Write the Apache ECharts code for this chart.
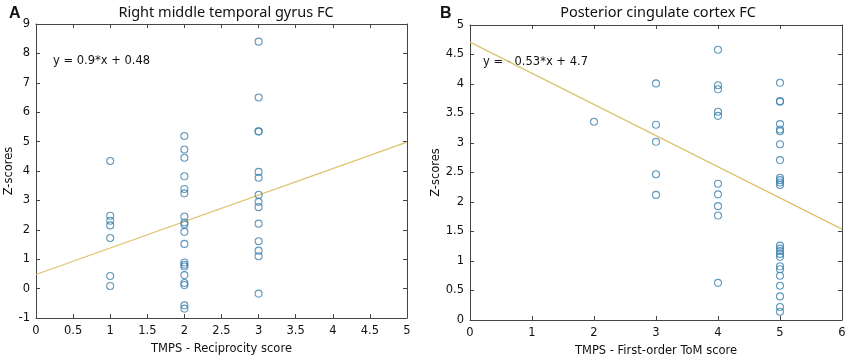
<!DOCTYPE html>
<html>
<head>
<meta charset="utf-8">
<script src="https://cdn.jsdelivr.net/npm/echarts@6/dist/echarts.min.js"></script>
<style>
  html, body { margin: 0; padding: 0; background: #fff; }
  #chart { width: 850px; height: 363px; }
</style>
</head>
<body>
<div id="chart"></div>
<script>
// Panel A: Right middle temporal gyrus FC, scores by reciprocity score
const recipX1 = [4.34, 2.48, 2.31, 2.15, 1.72, 0.43, 0.09];
const recipX2 = [5.19, 4.73, 4.45, 3.82, 3.39, 3.24, 2.45, 2.25, 2.18, 1.93, 1.52, 0.89, 0.81, 0.75, 0.46, 0.19, 0.12, -0.57, -0.68];
const recipX3 = [8.40, 6.50, 5.35, 5.34, 3.97, 3.77, 3.19, 2.95, 2.77, 2.21, 1.61, 1.29, 1.10, -0.17];
const fitA = [[0, 0.48], [5, 4.98]];

// Panel B: Posterior cingulate cortex FC, scores by first-order ToM score
const tomX2 = [3.36];
const tomX3 = [4.01, 3.31, 3.02, 2.47, 2.12];
const tomX4 = [4.58, 3.98, 3.91, 3.53, 3.46, 2.31, 2.13, 1.93, 1.77, 0.63];
const tomX5 = [4.02, 3.71, 3.70, 3.32, 3.23, 3.20, 2.98, 2.71, 2.41, 2.37, 2.33, 2.29, 1.26, 1.21, 1.17, 1.12, 1.07, 0.91, 0.86, 0.75, 0.58, 0.40, 0.22, 0.14];
const fitB = [[0, 4.71], [6, 1.54]];

const toPoints = (x, ys) => ys.map(y => [x, y]);
const pointsA = [].concat(toPoints(1, recipX1), toPoints(2, recipX2), toPoints(3, recipX3));
const pointsB = [].concat(toPoints(2, tomX2), toPoints(3, tomX3), toPoints(4, tomX4), toPoints(5, tomX5));

const FONT = 'DejaVu Sans';
const SIZE = 11.5;
const axisColor = '#444';
const textColor = '#111';
const markerColor = '#3a80ae';
const fitColor = '#dcc36e';

// main axis with labels, plus a mirrored axis for the MATLAB-style box
function xAxes(grid, min, max, interval, name) {
	return [
		{
			gridIndex: grid, type: 'value', min: min, max: max, interval: interval,
			name: name, nameLocation: 'middle', nameGap: 25,
			nameTextStyle: { fontFamily: FONT, fontSize: SIZE, color: textColor },
			axisLine: { onZero: false, lineStyle: { color: axisColor, width: 1 } },
			axisTick: { inside: true, length: 4, lineStyle: { color: axisColor } },
			axisLabel: { fontFamily: FONT, fontSize: SIZE, color: textColor, margin: 7 },
			splitLine: { show: false }
		},
		{
			gridIndex: grid, type: 'value', position: 'top', min: min, max: max, interval: interval,
			axisLine: { onZero: false, lineStyle: { color: axisColor, width: 1 } },
			axisTick: { inside: true, length: 4, lineStyle: { color: axisColor } },
			axisLabel: { show: false },
			splitLine: { show: false }
		}
	];
}

function yAxes(grid, min, max, interval, nameGap) {
	return [
		{
			gridIndex: grid, type: 'value', min: min, max: max, interval: interval,
			name: 'Z-scores', nameLocation: 'middle', nameGap: nameGap,
			nameTextStyle: { fontFamily: FONT, fontSize: SIZE, color: textColor },
			axisLine: { onZero: false, lineStyle: { color: axisColor, width: 1 } },
			axisTick: { inside: true, length: 4, lineStyle: { color: axisColor } },
			axisLabel: { fontFamily: FONT, fontSize: SIZE, color: textColor, margin: 6 },
			splitLine: { show: false }
		},
		{
			gridIndex: grid, type: 'value', position: 'right', min: min, max: max, interval: interval,
			axisLine: { onZero: false, lineStyle: { color: axisColor, width: 1 } },
			axisTick: { inside: true, length: 4, lineStyle: { color: axisColor } },
			axisLabel: { show: false },
			splitLine: { show: false }
		}
	];
}

function scatter(xi, yi, data) {
	return {
		type: 'scatter', xAxisIndex: xi, yAxisIndex: yi, data: data,
		symbol: 'circle', symbolSize: 7,
		itemStyle: { color: 'rgba(0,0,0,0)', borderColor: markerColor, borderWidth: 1.1 },
		silent: true, z: 3
	};
}

function fitLine(xi, yi, data) {
	return {
		type: 'line', xAxisIndex: xi, yAxisIndex: yi, data: data,
		symbol: 'none', lineStyle: { color: fitColor, width: 1.2 },
		silent: true, z: 2
	};
}

const chart = echarts.init(document.getElementById('chart'), null, { renderer: 'canvas' });

chart.setOption({
	backgroundColor: '#fff',
	animation: false,
	title: [
		{ text: 'Right middle temporal gyrus FC', left: 221, top: 0, textAlign: 'center',
		  textStyle: { fontFamily: 'Noto Sans', fontSize: 14.5, fontWeight: 'normal', color: '#111' } },
		{ text: 'Posterior cingulate cortex FC', left: 653, top: 0, textAlign: 'center',
		  textStyle: { fontFamily: 'Noto Sans', fontSize: 14.5, fontWeight: 'normal', color: '#111' } },
		{ text: 'A', left: 4, top: 1,
		  textStyle: { fontFamily: 'Liberation Sans', fontSize: 16, fontWeight: 'bold', color: '#111' } },
		{ text: 'B', left: 435, top: 1,
		  textStyle: { fontFamily: 'Liberation Sans', fontSize: 16, fontWeight: 'bold', color: '#111' } }
	],
	grid: [
		{ left: 36, top: 24, width: 371, height: 294 },
		{ left: 470, top: 25, width: 372, height: 295 }
	],
	xAxis: [].concat(
		xAxes(0, 0, 5, 0.5, 'TMPS - Reciprocity score'),
		xAxes(1, 0, 6, 1, 'TMPS - First-order ToM score')
	),
	yAxis: [].concat(
		yAxes(0, -1, 9, 1, 19),
		yAxes(1, 0, 5, 0.5, 24)
	),
	graphic: [
		{ type: 'text', left: 53, top: 55,
		  style: { text: 'y = 0.9*x + 0.48', fontFamily: FONT, fontSize: SIZE, fill: '#111' } },
		{ type: 'text', left: 483, top: 56,
		  style: { text: 'y = - 0.53*x + 4.7', fontFamily: FONT, fontSize: SIZE, fill: '#111' } }
	],
	series: [
		fitLine(0, 0, fitA),
		scatter(0, 0, pointsA),
		fitLine(2, 2, fitB),
		scatter(2, 2, pointsB)
	]
});
</script>
</body>
</html>
